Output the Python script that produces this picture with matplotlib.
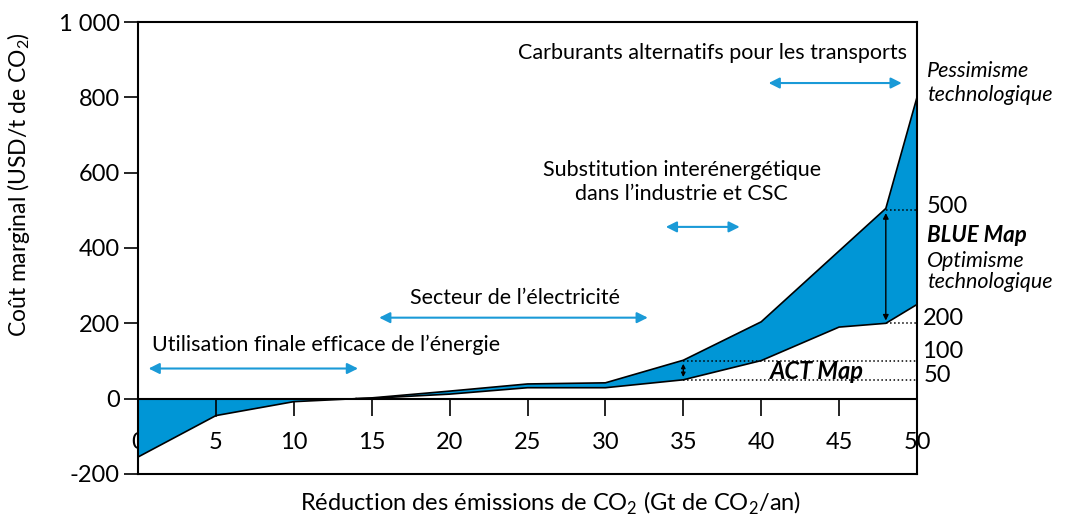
import matplotlib
matplotlib.use("Agg")
import matplotlib.pyplot as plt

plt.rcParams['font.family'] = ['Lato', 'DejaVu Sans']
plt.rcParams['mathtext.fontset'] = 'custom'
plt.rcParams['mathtext.rm'] = 'Lato'

BLUE = '#0096d6'
ARROW = '#1a9ad7'

# negative part of the curve (filled down to zero)
neg_x = [0, 5, 10, 14]
neg_y = [-155, -45, -8, 0]

# pessimistic (upper) and optimistic (lower) curves
hi_x = [14, 15, 20, 25, 30, 35, 40, 48, 50]
hi_y = [0, 2, 20, 39, 42, 102, 204, 505, 800]
lo_x = [14, 15, 20, 25, 30, 35, 40, 45, 48, 50]
lo_y = [0, 1, 12, 29, 29, 50, 101, 190, 200, 250]

x_ticks = [5, 10, 15, 20, 25, 30, 35, 40, 45, 50]
y_ticks = [-200, 0, 200, 400, 600, 800, 1000]
y_labels = ['-200', '0', '200', '400', '600', '800', '1 000']

# blue range arrows: (x start, x end, y), label, label position
ranges = [
    (0.5, 14.3, 80, "Utilisation finale efficace de l\u2019énergie", 12.1, 143),
    (15.3, 32.9, 215, "Secteur de l\u2019électricité", 24.2, 266),
    (33.7, 38.8, 456, "Substitution interénergétique\ndans l\u2019industrie et CSC", 34.9, 576),
    (40.3, 49.2, 838, "Carburants alternatifs pour les transports", 36.9, 918),
]

fig = plt.figure(figsize=(10.75, 5.18), dpi=100)
ax = fig.add_axes([0.1284, 0.085, 0.7246, 0.8725])

ax.fill(neg_x + [neg_x[-1], neg_x[0]], neg_y + [0, 0], color=BLUE, lw=0)
ax.fill(hi_x + lo_x[::-1], hi_y + lo_y[::-1], color=BLUE, lw=0)
ax.plot(neg_x, neg_y, color='black', lw=1.2)
ax.plot(hi_x, hi_y, color='black', lw=1.2)
ax.plot(lo_x, lo_y, color='black', lw=1.2)
ax.plot([5, 5], [0, neg_y[1]], color='black', lw=1.2)
ax.axhline(0, color='black', lw=1.5)

# dotted reference levels
ax.plot([48, 50], [500, 500], 'k:', lw=1.1)
ax.plot([48, 50], [200, 200], 'k:', lw=1.1)
ax.plot([35, 50], [100, 100], 'k:', lw=1.1)
ax.plot([35, 50], [50, 50], 'k:', lw=1.1)
ax.annotate('', xy=(48, 200), xytext=(48, 500),
            arrowprops=dict(arrowstyle='<|-|>', color='black', lw=1, mutation_scale=8))
ax.annotate('', xy=(35, 50), xytext=(35, 100),
            arrowprops=dict(arrowstyle='<|-|>', color='black', lw=1, mutation_scale=6))

for x0, x1, y, label, tx, ty in ranges:
    ax.annotate('', xy=(x0, y), xytext=(x1, y),
                arrowprops=dict(arrowstyle='<|-|>', color=ARROW, lw=1.5, mutation_scale=16))
    ax.text(tx, ty, label, ha='center', va='center', fontsize=15.5, linespacing=1.25)

ax.text(43.6, 72, 'ACT Map', ha='center', va='center', fontsize=17,
        fontweight='bold', style='italic')

ax.set_xlim(0, 50)
ax.set_ylim(-200, 1000)
ax.set_yticks(y_ticks)
ax.set_yticklabels(y_labels)
ax.tick_params(axis='y', direction='out', length=10, width=1.2, labelsize=17, pad=3)
ax.set_xticks([])
for s in ax.spines.values():
    s.set_linewidth(1.5)
ax.set_ylabel('Coût marginal (USD/t de CO$_2$)', fontsize=16.5)
ax.yaxis.set_label_coords(-0.136, 0.64)
ax.set_xlabel('Réduction des émissions de CO$_2$ (Gt de CO$_2$/an)', fontsize=17)
ax.xaxis.set_label_coords(0.53, -0.035)

# x axis ticks on the zero line
zero_pos = (0 - (-200)) / 1200
sec = ax.secondary_xaxis(zero_pos)
sec.set_xticks([0] + x_ticks)
sec.tick_params(direction='out', length=12, width=1.2, labelsize=17, pad=12)
sec.spines['bottom'].set_visible(False)

# right-hand annotations
tr = ax.get_yaxis_transform()
ax.text(1.013, 838, 'Pessimisme\ntechnologique', transform=tr, fontsize=15.5,
        style='italic', va='center', ha='left', linespacing=1.2)
ax.text(1.013, 510, '500', transform=tr, fontsize=17, va='center', ha='left')
ax.text(1.013, 432, 'BLUE Map', transform=tr, fontsize=16, fontweight='bold',
        style='italic', va='center', ha='left')
ax.text(1.013, 338, 'Optimisme\ntechnologique', transform=tr, fontsize=15.5,
        style='italic', va='center', ha='left', linespacing=1.05)
ax.text(1.008, 212, '200', transform=tr, fontsize=17, va='center', ha='left')
ax.text(1.006, 125, '100', transform=tr, fontsize=17, va='center', ha='left')
ax.text(1.008, 62, '50', transform=tr, fontsize=17, va='center', ha='left')

fig.savefig('out.png', dpi=100)
